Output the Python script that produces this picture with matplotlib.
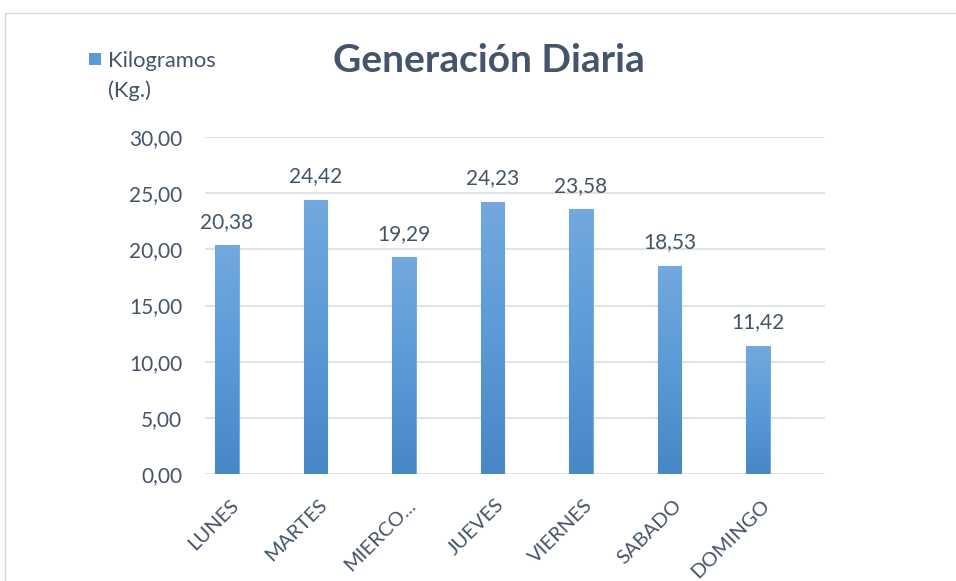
import matplotlib
matplotlib.use("Agg")
import matplotlib.pyplot as plt
import matplotlib.transforms as mtransforms
import numpy as np
from matplotlib.patches import Rectangle
from matplotlib.colors import LinearSegmentedColormap

categories = ["LUNES", "MARTES", "MIERCO...", "JUEVES", "VIERNES", "SABADO", "DOMINGO"]
values = [20.38, 24.42, 19.29, 24.23, 23.58, 18.53, 11.42]
labels = ["20,38", "24,42", "19,29", "24,23", "23,58", "18,53", "11,42"]
yticks = [0, 5, 10, 15, 20, 25, 30]
ytick_labels = ["0,00", "5,00", "10,00", "15,00", "20,00", "25,00", "30,00"]
legend_lines = ["Kilogramos", "(Kg.)"]
title = "Generación Diaria"

plt.rcParams['font.family'] = ['Lato', 'DejaVu Sans']
txt = "#44546a"
W, H = 956, 581

fig = plt.figure(figsize=(W / 100, H / 100), dpi=100)
fig.patches.append(Rectangle((5 / W, -0.1), 1.2, 1 - 13 / H + 0.1, transform=fig.transFigure,
                             fill=False, edgecolor="#d9d9d9", linewidth=1.0))
ax = fig.add_axes([205 / W, 1 - 474 / H, 620 / W, (474 - 137) / H])
x = np.arange(len(categories))
bars = ax.bar(x, values, width=0.27, color="#5b9bd5", edgecolor="#78afe0", linewidth=0.8, zorder=3)

grad = np.linspace(0, 1, 256).reshape(-1, 1)
cmap = LinearSegmentedColormap.from_list("g", ["#4787c6", "#5a9ad7", "#72a9de"])
for b in bars:
    bx, by = b.get_x(), b.get_y()
    w, h = b.get_width(), b.get_height()
    im = ax.imshow(grad, extent=[bx, bx + w, by, by + h], origin="lower", aspect="auto",
                   cmap=cmap, zorder=3.5)
    im.set_clip_path(b)

for xi, v, lab in zip(x, values, labels):
    ax.annotate(lab, (xi, v), xytext=(0, 12.5), textcoords="offset points",
                ha="center", va="baseline", fontsize=15, color=txt)

spacing = 88.5
lo = -22 / spacing
ax.set_xlim(lo, lo + 620 / spacing)
ax.set_ylim(0, 30)
ax.set_yticks(yticks)
ax.set_yticklabels(ytick_labels, fontsize=15, color=txt)
ax.set_xticks(x)
ax.set_xticklabels(categories, rotation=45, ha="right", va="top", rotation_mode="anchor",
                   fontsize=14.5, color=txt)
ax.tick_params(axis="y", length=0, pad=16.5)
ax.tick_params(axis="x", length=0, pad=16)
off = mtransforms.ScaledTranslation(3 / 100, 0, fig.dpi_scale_trans)
for t in ax.get_xticklabels():
    t.set_transform(t.get_transform() + off)
for s in ax.spines.values():
    s.set_visible(False)
ax.grid(axis="y", color="#dcdfe4", linewidth=1.3, zorder=0)
ax.set_axisbelow(True)

fig.text(489 / W, 1 - 72 / H, title, ha="center", va="baseline", fontsize=28,
         fontweight="bold", color=txt)
fig.patches.append(Rectangle((89 / W, 1 - 65 / H), 12 / W, 12 / H, transform=fig.transFigure,
                             facecolor="#5b9bd5", edgecolor="none"))
fig.text(108 / W, 1 - 67 / H, legend_lines[0], ha="left", va="baseline", fontsize=15.8, color=txt)
fig.text(108 / W, 1 - 97 / H, legend_lines[1], ha="left", va="baseline", fontsize=15.8, color=txt)

fig.savefig("out.png", dpi=100)
